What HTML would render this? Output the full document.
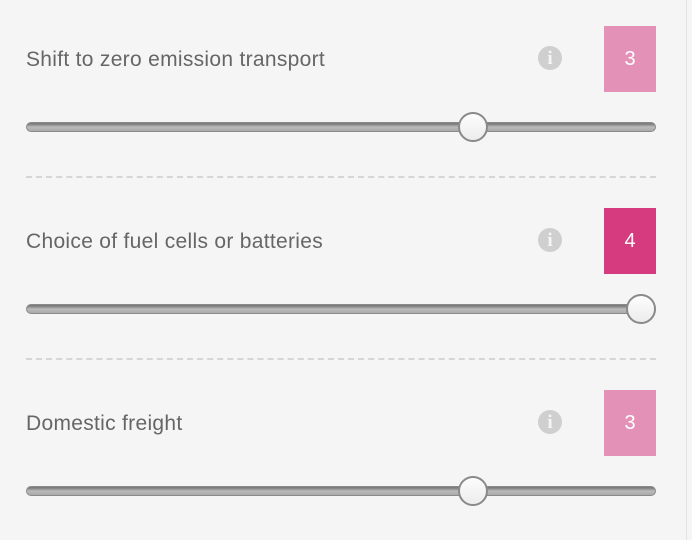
<!DOCTYPE html>
<html><head><meta charset="utf-8"><style>
html,body{margin:0;padding:0;}
body{width:692px;height:540px;background:#f5f5f5;position:relative;overflow:hidden;font-family:"Liberation Sans",sans-serif;}
.border{position:absolute;left:686px;top:0;width:1px;height:540px;background:#e4e4e4;}
.title{position:absolute;left:26px;font-size:21px;color:#666;line-height:24px;letter-spacing:0.3px;}
.info{position:absolute;width:24px;height:24px;border-radius:50%;background:#cfcfcf;color:#f5f5f5;font:bold 19px "Liberation Serif",serif;text-align:center;line-height:25px;}
.box{position:absolute;left:604px;width:52px;height:66px;color:#fff;font-size:20px;text-align:center;line-height:66px;}
.track{position:absolute;left:26px;width:630px;height:10px;border-radius:5px;background:linear-gradient(#777 0,#888 20%,#bbb 50%,#aaa 100%);box-sizing:border-box;border:1px solid #8a8a8a;}
.thumb{position:absolute;width:30px;height:30px;border-radius:50%;box-sizing:border-box;border:2px solid #8a8a8a;background:linear-gradient(#fdfdfd,#ececec);}
.dash{position:absolute;left:26px;width:630px;height:0;border-top:2px dashed #d6d6d6;}
</style></head><body>
<div class="border"></div>
<script>
const labels=["Shift to zero emission transport","Choice of fuel cells or batteries","Domestic freight"];
const values=[3,4,3];
const maxValue=4;
const colors={3:"#e491b7",4:"#d63a7f"};
const x0=41,x1=641,vmin=0.43;
function xScale(v){return x0+(v-vmin)/(maxValue-vmin)*(x1-x0);}
labels.forEach((lab,i)=>{
  const oy=i*182;
  const t=document.createElement('div');t.className='title';t.style.top=(48+oy)+'px';t.textContent=lab;
  
  
  document.body.appendChild(t);
  const inf=document.createElement('div');inf.className='info';inf.style.left='538px';inf.style.top=(46+oy)+'px';inf.textContent='i';
  
  
  document.body.appendChild(inf);
  const b=document.createElement('div');b.className='box';b.style.top=(26+oy)+'px';b.style.background=colors[values[i]]||"#e491b7";b.textContent=values[i];
  
  
  document.body.appendChild(b);
  const tr=document.createElement('div');tr.className='track';tr.style.top=(122+oy)+'px';
  
  
  document.body.appendChild(tr);
  const th=document.createElement('div');th.className='thumb';th.style.left=(xScale(values[i])-15)+'px';th.style.top=(112+oy)+'px';
  
  
  document.body.appendChild(th);
  if(i<labels.length-1){
    const d=document.createElement('div');d.className='dash';d.style.top=(176+oy)+'px';
    
    
    document.body.appendChild(d);
  }
});
</script>
</body></html>
